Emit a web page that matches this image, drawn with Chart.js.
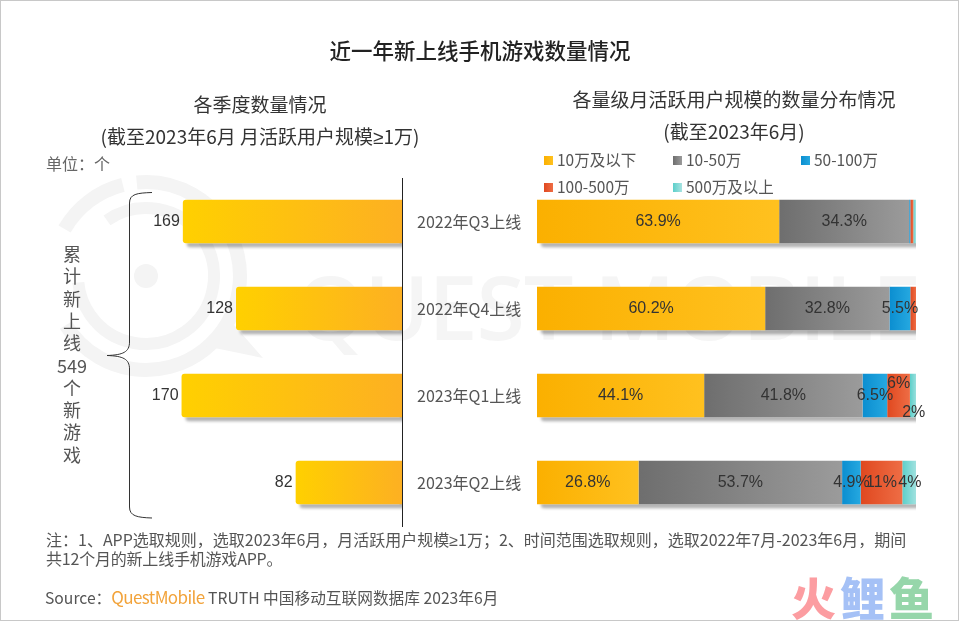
<!DOCTYPE html>
<html>
<head>
<meta charset="utf-8">
<script src="https://cdn.jsdelivr.net/npm/chart.js@4"></script>
<style>
  html, body { margin: 0; padding: 0; background: #fff; }
  #page { position: relative; width: 960px; height: 622px; overflow: hidden; background: #fff;
    font-family: "Noto Sans CJK SC", sans-serif; color: #444; }
  #frame { position: absolute; left: 0; top: 0; width: 957px; height: 619px; border: 1.5px solid #c8c8c8; }
  .txt { position: absolute; white-space: nowrap; }
  .mid { transform: translateX(-50%); }
  .ge { font-family: "Liberation Sans"; }
  canvas { position: absolute; }
  #watermark, #brace { position: absolute; left: 0; top: 0; }
  .swatch { position: absolute; width: 9px; height: 9px; }
</style>
</head>
<body>
<div id="page">
  <svg id="watermark" width="960" height="622">
    <g fill="none" stroke="#f4f4f4">
      <circle cx="146" cy="276" r="68" stroke-width="12" stroke-dasharray="355 72" transform="rotate(-125 146 276)"/>
      <circle cx="146" cy="276" r="94" stroke-width="14" stroke-dasharray="75 14 400 102" transform="rotate(-150 146 276)"/>
    </g>
    <circle cx="146" cy="276" r="12" fill="#f4f4f4"/>
    <path d="M200 345 L263 358 L228 318 Z" fill="#f4f4f4"/>
    <text x="296" y="340" font-family="Open Sans" font-size="88" font-weight="600" fill="#f5f5f5" textLength="625">QUEST MOBILE</text>
  </svg>

  <canvas id="countChart" style="left:0;top:169px;width:536px;height:366px"></canvas>
  <canvas id="shareChart" style="left:530px;top:169px;width:430px;height:366px"></canvas>

  <svg id="brace" width="960" height="622">
    <path d="M152 192.5 C137 193 129.5 194 129.5 203 L129.5 342 C129.5 352 123 355 107 355.5 C123 356 129.5 359 129.5 369 L129.5 507 C129.5 516 137 517.5 152 518" fill="none" stroke="#333" stroke-width="1"/>
  </svg>

  <div class="txt mid" style="left:480px;top:35px;font-size:21.5px;line-height:30px;color:#222;font-weight:500">近一年新上线手机游戏数量情况</div>
  <div class="txt mid" style="left:260px;top:90px;font-size:19px;line-height:28px;color:#333">各季度数量情况</div>
  <div class="txt mid" style="left:260px;top:122px;font-size:19px;line-height:28px;color:#333">(截至2023年6月 月活跃用户规模<span class="ge">≥</span>1万)</div>
  <div class="txt mid" style="left:734px;top:85px;font-size:19px;line-height:28px;color:#333">各量级月活跃用户规模的数量分布情况</div>
  <div class="txt mid" style="left:734px;top:117px;font-size:19px;line-height:28px;color:#333">(截至2023年6月)</div>
  <div class="txt" style="left:46px;top:152px;font-size:16px;line-height:22px;color:#666">单位：个</div>
  <div id="legend"></div>
  <div id="sideNote"></div>

  <div class="txt" style="left:46px;top:529px;font-size:16px;line-height:20px;color:#555">注：1、APP选取规则，选取2023年6月，月活跃用户规模<span class="ge">≥</span>1万；2、时间范围选取规则，选取2022年7月-2023年6月，期间</div>
  <div class="txt" style="left:46px;top:548px;font-size:16px;line-height:20px;color:#555;letter-spacing:-0.2px">共12个月的新上线手机游戏APP。</div>
  <div class="txt" style="left:45px;top:586px;font-size:15.7px;line-height:22px;color:#555">Source：<span style="color:#f2a33a;font-size:17px;letter-spacing:-0.6px">QuestMobile</span> TRUTH 中国移动互联网数据库 2023年6月</div>

  <div class="txt" style="left:791px;top:568px;font-size:45px;line-height:58px;font-weight:900;letter-spacing:4px">
    <span style="color:#fc9da1">火</span><span style="color:#a5c1f6">鲤</span><span style="color:#96d6aa">鱼</span>
  </div>
  <div id="frame"></div>
</div>

<script>
const quarters = ["2022年Q3上线", "2022年Q4上线", "2023年Q1上线", "2023年Q2上线"];
const newGames = [169, 128, 170, 82];

const seriesNames = ["10万及以下", "10-50万", "50-100万", "100-500万", "500万及以上"];
const under10 = [63.9, 60.2, 44.1, 26.8];
const from10to50 = [34.3, 32.8, 41.8, 53.7];
const from50to100 = [0.3, 5.5, 6.5, 4.9];
const from100to500 = [0.8, 1.5, 6, 11];
const over500 = [0.7, 0, 2, 4];

const sideText = ["累", "计", "新", "上", "线", "549", "个", "新", "游", "戏"];

const seriesColors = [
  ["#fbb000", "#ffc11f"],
  ["#6e6e6e", "#9b9b9b"],
  ["#0b8ed0", "#25a8e0"],
  ["#e0481f", "#ee6d45"],
  ["#5ccfca", "#a8e3e1"],
];
const labelFont = "16px 'Liberation Sans'";
const labelColor = "#333";

// Gradient from one end of the bar to the other
function barGradient(chart, x0, x1, colors) {
  const g = chart.ctx.createLinearGradient(x0, 0, x1, 0);
  g.addColorStop(0, colors[0]);
  g.addColorStop(1, colors[1]);
  return g;
}

// Soft shadow under each whole row, the bars then paint over it
const barShadow = {
  id: "barShadow",
  beforeDatasetsDraw(chart) {
    const ctx = chart.ctx;
    const a = chart.chartArea;
    ctx.save();
    ctx.beginPath();
    ctx.rect(a.left, a.top, a.right - a.left, a.bottom - a.top);
    ctx.clip();
    ctx.shadowColor = "rgba(0,0,0,0.3)";
    ctx.shadowBlur = 3;
    ctx.shadowOffsetX = 4;
    ctx.shadowOffsetY = 4;
    ctx.fillStyle = "#fff";
    chart.data.labels.forEach((_, i) => {
      let left = Infinity, right = -Infinity, row;
      chart.data.datasets.forEach((ds, d) => {
        const bar = chart.getDatasetMeta(d).data[i];
        left = Math.min(left, bar.x, bar.base);
        right = Math.max(right, bar.x, bar.base);
        row = bar;
      });
      ctx.beginPath();
      ctx.roundRect(left, row.y - row.height / 2, right - left, row.height, 3);
      ctx.fill();
    });
    ctx.restore();
  },
};

// Value labels
const countLabels = {
  id: "countLabels",
  afterDatasetsDraw(chart) {
    const ctx = chart.ctx;
    ctx.save();
    ctx.font = labelFont;
    ctx.fillStyle = labelColor;
    ctx.textAlign = "right";
    ctx.textBaseline = "middle";
    chart.getDatasetMeta(0).data.forEach((bar, i) => {
      ctx.fillText(newGames[i], bar.x - 3, bar.y);
    });
    ctx.restore();
  },
};

const shareLabels = {
  id: "shareLabels",
  afterDatasetsDraw(chart) {
    const ctx = chart.ctx;
    ctx.save();
    ctx.font = labelFont;
    ctx.fillStyle = labelColor;
    ctx.textAlign = "center";
    ctx.textBaseline = "middle";
    chart.data.datasets.forEach((ds, d) => {
      chart.getDatasetMeta(d).data.forEach((bar, i) => {
        const v = ds.data[i];
        if (v < 2) return;
        // the two thin Q1 pieces have their labels pushed off the bar centre
        let dy = 0;
        if (i === 2 && d === 3) dy = -12;
        if (i === 2 && d === 4) dy = 17;
        ctx.fillText(v + "%", (bar.base + bar.x) / 2, bar.y + dy);
      });
    });
    ctx.restore();
  },
};

new Chart(document.getElementById("countChart"), {
  type: "bar",
  data: {
    labels: quarters,
    datasets: [{
      data: newGames,
      barPercentage: 0.5,
      categoryPercentage: 1,
      borderRadius: { topLeft: 3, bottomLeft: 3, topRight: 0, bottomRight: 0 },
      borderSkipped: false,
      backgroundColor(c) {
        const chart = c.chart;
        if (!chart.chartArea || c.dataIndex === undefined) return "#fdc010";
        const x0 = chart.scales.x.getPixelForValue(newGames[c.dataIndex]);
        return barGradient(chart, x0, chart.chartArea.right, ["#ffd000", "#fdb022"]);
      },
    }],
  },
  options: {
    indexAxis: "y",
    animation: false,
    responsive: false,
    devicePixelRatio: 1,
    layout: { padding: { top: 9, bottom: 9 } },
    plugins: { legend: { display: false }, tooltip: { enabled: false } },
    scales: {
      x: { reverse: true, min: 0, max: 310, display: false },
      y: {
        position: "right",
        afterFit(scale) {
          scale.width = 134;
          scale.paddingTop = 0;
          scale.paddingBottom = 0;
        },
        grid: { display: false, drawTicks: false },
        border: { display: true, color: "#222", width: 1 },
        ticks: {
          color: "#555",
          padding: 15,
          crossAlign: "near",
          font: { family: "'Noto Sans CJK SC'", size: 16 },
        },
      },
    },
  },
  plugins: [barShadow, countLabels],
});

const shareSeries = [under10, from10to50, from50to100, from100to500, over500];

new Chart(document.getElementById("shareChart"), {
  type: "bar",
  data: {
    labels: quarters,
    datasets: shareSeries.map((values, d) => ({
      label: seriesNames[d],
      data: values,
      barPercentage: 0.5,
      categoryPercentage: 1,
      backgroundColor(c) {
        const chart = c.chart;
        if (!chart.chartArea || c.dataIndex === undefined) return seriesColors[d][0];
        let before = 0;
        for (let k = 0; k < d; k++) before += shareSeries[k][c.dataIndex];
        const x = chart.scales.x;
        return barGradient(chart, x.getPixelForValue(before), x.getPixelForValue(before + values[c.dataIndex]), seriesColors[d]);
      },
    })),
  },
  options: {
    indexAxis: "y",
    animation: false,
    responsive: false,
    devicePixelRatio: 1,
    layout: { padding: { left: 7, right: 44, top: 9, bottom: 9 } },
    plugins: { legend: { display: false }, tooltip: { enabled: false } },
    scales: {
      x: { stacked: true, min: 0, max: 100, display: false },
      y: { stacked: true, display: false },
    },
  },
  plugins: [barShadow, shareLabels],
});

// Legend, two rows as in the report
const legend = document.getElementById("legend");
const legendX = [544, 673, 801, 544, 673];
const legendY = [156, 156, 156, 183, 183];
seriesNames.forEach((name, i) => {
  const box = document.createElement("div");
  box.className = "swatch";
  box.style.left = legendX[i] + "px";
  box.style.top = legendY[i] + "px";
  box.style.background = "linear-gradient(90deg," + seriesColors[i][0] + "," + seriesColors[i][1] + ")";
  legend.appendChild(box);
  const t = document.createElement("div");
  t.className = "txt";
  t.textContent = name;
  t.style.cssText = "left:" + (legendX[i] + 13) + "px;top:" + (legendY[i] - 7) + "px;font-size:15.5px;line-height:21px;color:#555";
  legend.appendChild(t);
});

// Vertical caption next to the brace
const side = document.getElementById("sideNote");
sideText.forEach((s, i) => {
  const t = document.createElement("div");
  t.className = "txt mid";
  t.textContent = s;
  t.style.cssText = "left:72px;top:" + (242 + i * 22.3) + "px;font-size:18px;line-height:22px;color:#555";
  side.appendChild(t);
});
</script>
</body>
</html>
